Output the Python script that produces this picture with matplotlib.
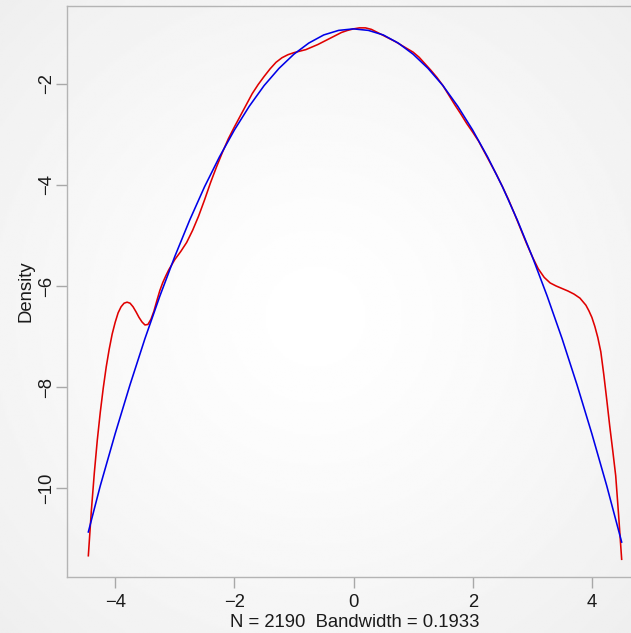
import numpy as np
import matplotlib.pyplot as plt

# Kernel density estimate on the log scale
kde_x = [-4.45, -4.40, -4.35, -4.30, -4.25, -4.20, -4.15, -4.10, -4.05, -4.00,
         -3.95, -3.90, -3.85, -3.80, -3.75, -3.70, -3.65, -3.60, -3.55, -3.50,
         -3.45, -3.40, -3.35, -3.30, -3.25, -3.20, -3.15, -3.10, -3.00, -2.90,
         -2.80, -2.70, -2.60, -2.50, -2.40, -2.30, -2.20, -2.10, -2.00, -1.90,
         -1.80, -1.70, -1.60, -1.50, -1.40, -1.30, -1.20, -1.10, -1.00, -0.90,
         -0.80, -0.70, -0.60, -0.50, -0.40, -0.30, -0.20, -0.10, 0.00, 0.10,
         0.20, 0.30, 0.40, 0.50, 0.60, 0.70, 0.80, 0.90, 1.00, 1.10,
         1.20, 1.30, 1.40, 1.50, 1.60, 1.70, 1.80, 1.90, 2.00, 2.10,
         2.20, 2.30, 2.40, 2.50, 2.60, 2.70, 2.80, 2.90, 3.00, 3.10,
         3.20, 3.30, 3.40, 3.50, 3.60, 3.70, 3.80, 3.90, 3.95, 4.00,
         4.05, 4.10, 4.15, 4.20, 4.25, 4.30, 4.35, 4.40, 4.45, 4.50]
kde_y = [-11.33, -10.45, -9.70, -9.05, -8.50, -8.02, -7.60, -7.25, -6.95, -6.72,
         -6.53, -6.41, -6.34, -6.32, -6.34, -6.41, -6.51, -6.62, -6.71, -6.77,
         -6.76, -6.66, -6.50, -6.29, -6.09, -5.93, -5.80, -5.68, -5.48, -5.32,
         -5.14, -4.90, -4.62, -4.30, -3.96, -3.65, -3.36, -3.09, -2.86, -2.64,
         -2.42, -2.20, -2.02, -1.86, -1.71, -1.58, -1.49, -1.43, -1.39, -1.36,
         -1.33, -1.28, -1.23, -1.17, -1.11, -1.05, -0.99, -0.95, -0.92, -0.90,
         -0.90, -0.93, -0.99, -1.05, -1.11, -1.17, -1.24, -1.31, -1.38, -1.48,
         -1.61, -1.74, -1.88, -2.04, -2.23, -2.42, -2.60, -2.79, -2.96, -3.14,
         -3.36, -3.58, -3.80, -4.04, -4.29, -4.57, -4.86, -5.15, -5.42, -5.66,
         -5.83, -5.94, -6.00, -6.05, -6.10, -6.16, -6.24, -6.38, -6.49, -6.62,
         -6.80, -7.02, -7.30, -7.75, -8.25, -8.77, -9.25, -9.75, -10.55, -11.40]

# Fitted normal log-density
norm_x = [-4.45, -4.25, -4.00, -3.75, -3.50, -3.25, -3.00, -2.75, -2.50, -2.25,
          -2.00, -1.75, -1.50, -1.25, -1.00, -0.75, -0.50, -0.25, 0.00, 0.25,
          0.50, 0.75, 1.00, 1.25, 1.50, 1.75, 2.00, 2.25, 2.50, 2.75,
          3.00, 3.25, 3.50, 3.75, 4.00, 4.25, 4.50]
norm_y = [-10.86, -9.95, -8.92, -7.95, -7.04, -6.20, -5.42, -4.70, -4.04, -3.45,
          -2.92, -2.45, -2.04, -1.70, -1.42, -1.20, -1.04, -0.95, -0.92, -0.95,
          -1.04, -1.20, -1.42, -1.70, -2.04, -2.45, -2.92, -3.45, -4.04, -4.70,
          -5.42, -6.20, -7.04, -7.95, -8.92, -9.95, -11.06]

x_ticks = [-4, -2, 0, 2, 4]
y_ticks = [-10, -8, -6, -4, -2]

plt.rcParams['font.family'] = ['Liberation Sans', 'DejaVu Sans']

fig = plt.figure(figsize=(6.31, 6.33), dpi=100)

# soft radial background
bg = fig.add_axes([0, 0, 1, 1], zorder=-10)
gx, gy = np.meshgrid(np.linspace(-1, 1, 300), np.linspace(-1, 1, 300))
r = np.clip(np.sqrt(gx**2 + gy**2) / np.sqrt(2), 0, 1)
shade = 1.0 - 0.065 * r**1.3
bg.imshow(shade, cmap='gray', vmin=0, vmax=1, extent=[0, 1, 0, 1],
          aspect='auto', interpolation='bilinear')
bg.axis('off')

ax = fig.add_axes([67 / 631, 56 / 633, 576 / 631, 571 / 633])
ax.patch.set_alpha(0)

ax.plot(kde_x, kde_y, color='#e00000', lw=1.15, solid_joinstyle='round')
ax.plot(norm_x, norm_y, color='#0000e8', lw=1.15, solid_joinstyle='round')

ax.set_xlim(-4.808, 4.858)
ax.set_ylim(-11.75, -0.468)
ax.set_xticks(x_ticks)
ax.set_yticks(y_ticks)
ax.set_xticklabels(['\u2212' + str(-t) if t < 0 else str(t) for t in x_ticks])
ax.set_yticklabels(['\u2212' + str(-t) for t in y_ticks],
                   rotation=90, va='center')

for side in ['left', 'top', 'bottom']:
    ax.spines[side].set_color('#b4b4b4')
    ax.spines[side].set_linewidth(1.0)
ax.spines['right'].set_visible(False)

ax.tick_params(colors='#a8a8a8', length=8, width=1.0, labelsize=13.3,
               labelcolor='#1a1a1a')
ax.tick_params(axis='x', pad=4)
ax.tick_params(axis='y', pad=0.5)

ax.set_xlabel('N = 2190  Bandwidth = 0.1933', fontsize=13.3, color='#1a1a1a')
ax.set_ylabel('Density', fontsize=13.3, color='#1a1a1a')
ax.xaxis.set_label_coords((355 - 67) / 576, -0.065)
ax.yaxis.set_label_coords(-0.056, 0.5)

fig.savefig('out.png', dpi=100)
